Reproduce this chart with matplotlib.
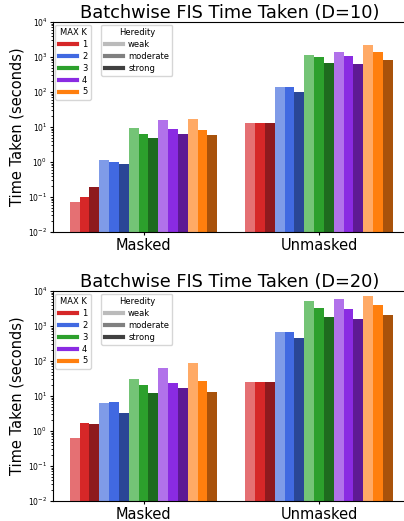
import matplotlib.pyplot as plt
import numpy as np
from matplotlib.lines import Line2D

groups = ['Masked', 'Unmasked']
max_k = ['1', '2', '3', '4', '5']
heredity = ['weak', 'moderate', 'strong']

# time taken [group][k][heredity]
d10_masked = [[0.073, 0.10, 0.19], [1.12, 1.0, 0.88], [9.4, 6.3, 4.85],
              [15.8, 8.8, 6.3], [16.9, 8.2, 5.9]]
d10_unmasked = [[13.0, 13.0, 13.0], [139, 139, 100], [1140, 1000, 674],
                [1390, 1068, 631], [2200, 1390, 821]]
d20_masked = [[0.63, 1.69, 1.58], [6.3, 6.7, 3.27], [30.6, 20.6, 12.2],
              [63, 23.5, 16.9], [87.7, 26.8, 13.0]]
d20_unmasked = [[25.1, 25.1, 25.1], [674, 674, 454], [5180, 3270, 1808],
                [5900, 3060, 1585], [7200, 3980, 2060]]

# colours per K: weak, moderate, strong
colors = [['#e57073', '#d62728', '#8e1a1e'],
          ['#7f9be8', '#4169e1', '#2a4696'],
          ['#74c476', '#2ca02c', '#1e6b1e'],
          ['#b172ea', '#8a2be2', '#5e1a94'],
          ['#ffaa66', '#ff7f0e', '#a8520b']]
grey = ['#bbbbbb', '#808080', '#404040']

fig = plt.figure(figsize=(4.04, 5.21), dpi=100)
ax1 = fig.add_axes([0.131, 0.5547, 0.876, 0.403])
ax2 = fig.add_axes([0.131, 0.0384, 0.876, 0.403])

w = 0.8 / 15 * 1.05
x = np.arange(len(groups))


def draw(ax, masked, unmasked, title):
    for k in range(5):
        for h in range(3):
            i = k * 3 + h
            off = (i - 7) * w
            vals = [masked[k][h], unmasked[k][h]]
            ax.bar(x + off, vals, w, color=colors[k][h], log=True)
    ax.set_yscale('log')
    ax.set_ylim(1e-2, 1e4)
    ax.set_xlim(-0.516, 1.5)
    ax.set_xticks(x)
    ax.set_xticklabels(groups, fontsize=10.5)
    ax.tick_params(axis='x', length=2.5, pad=1.5)
    ax.tick_params(axis='y', labelsize=5.5, length=2.5, pad=1.5)
    ax.tick_params(axis='y', which='minor', length=1.5)
    ax.set_ylabel('Time Taken (seconds)', fontsize=10.5, labelpad=3)
    ax.set_title(title, fontsize=12.8, pad=3)
    h1 = [Line2D([], [], color=colors[k][1], lw=3) for k in range(5)]
    leg1 = ax.legend(h1, max_k, title='MAX K', loc='upper left', fontsize=6,
                     title_fontsize=6, handlelength=2.2, borderaxespad=0.3,
                     labelspacing=0.35, handletextpad=0.6)
    ax.add_artist(leg1)
    h2 = [Line2D([], [], color=grey[j], lw=3) for j in range(3)]
    ax.legend(h2, heredity, title='Heredity', loc='upper left', fontsize=6,
              title_fontsize=6, handlelength=2.2, borderaxespad=0.3,
              labelspacing=0.35, handletextpad=0.6,
              bbox_to_anchor=(0.13, 1.0))


draw(ax1, d10_masked, d10_unmasked, 'Batchwise FIS Time Taken (D=10)')
draw(ax2, d20_masked, d20_unmasked, 'Batchwise FIS Time Taken (D=20)')

fig.savefig('out.png', dpi=100)
